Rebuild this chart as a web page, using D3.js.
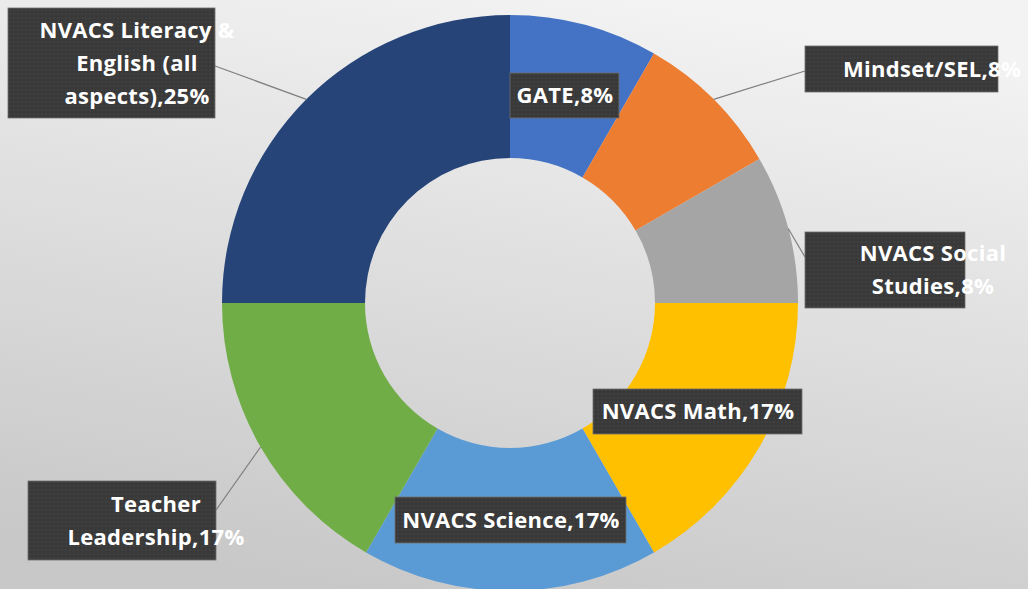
<!DOCTYPE html>
<html lang="en">
<head>
    <meta charset="UTF-8">
    <title>Donut Chart with Callouts</title>
    <script src="https://d3js.org/d3.v7.min.js"></script>
    <style>
        html, body { margin: 0; padding: 0; }
        svg { display: block; }
    </style>
</head>
<body>
    <svg id="donut"></svg>

    <script>
        // categories, clockwise from 12 o'clock
        const categories = [
            "GATE",
            "Mindset/SEL",
            "NVACS Social Studies",
            "NVACS Math",
            "NVACS Science",
            "Teacher Leadership",
            "NVACS Literacy & English (all aspects)"
        ];
        // slice sizes (1:1:1:2:2:2:3)
        const responses = [1, 1, 1, 2, 2, 2, 3];
        const colors = ["#4472C4", "#ED7D31", "#A5A5A5", "#FFC000", "#5B9BD5", "#70AD47", "#264478"];
        // words per label line
        const wrap = [[2], [1], [2, 1], [3], [3], [1, 1], [3, 2, 1]];

        const width = 1028;
        const height = 589;
        const cx = 510, cy = 303;
        const outerR = 288, innerR = 145;

        // label callout boxes (x, y, w, h) and text centre x
        const boxes = [
            {x: 510, y: 73, w: 109, h: 45, tx: 565, leader: false},
            {x: 805, y: 46, w: 193, h: 46, tx: 932, leader: true, ax: 805, ay: 71},
            {x: 805, y: 232, w: 160, h: 76, tx: 933, leader: true, ax: 805, ay: 257},
            {x: 593, y: 389, w: 209, h: 45, tx: 698, leader: false},
            {x: 395, y: 497, w: 231, h: 46, tx: 511, leader: false},
            {x: 28, y: 481, w: 188, h: 79, tx: 156, leader: true, ax: 216, ay: 510},
            {x: 8, y: 8, w: 207, h: 110, tx: 137, leader: true, ax: 215, ay: 66}
        ];

        const svg = d3.select("#donut")
            .attr("width", width)
            .attr("height", height);

        const defs = svg.append("defs");

        const bg = defs.append("linearGradient")
            .attr("id", "bg")
            .attr("x1", 0.65).attr("y1", 0)
            .attr("x2", 0.35).attr("y2", 1);
        bg.append("stop").attr("offset", "0%").attr("stop-color", "#f3f3f3");
        bg.append("stop").attr("offset", "100%").attr("stop-color", "#c8c8c8");

        const dots = defs.append("pattern")
            .attr("id", "dots")
            .attr("width", 4).attr("height", 4)
            .attr("patternUnits", "userSpaceOnUse");
        dots.append("rect").attr("width", 4).attr("height", 4).attr("fill", "#393939");
        dots.append("circle").attr("cx", 2).attr("cy", 2).attr("r", 0.6).attr("fill", "#565656");

        svg.append("rect")
            .attr("width", width)
            .attr("height", height)
            .attr("fill", "url(#bg)");

        const total = d3.sum(responses);
        const data = categories.map((c, i) => ({
            name: c,
            value: responses[i],
            pct: Math.round(responses[i] / total * 100),
            color: colors[i],
            wrap: wrap[i],
            box: boxes[i]
        }));

        const pie = d3.pie()
            .sort(null)
            .value(d => d.value);

        const data_ready = pie(data);

        const arc = d3.arc()
            .innerRadius(innerR)
            .outerRadius(outerR);

        const edgeArc = d3.arc()
            .innerRadius(outerR)
            .outerRadius(outerR);

        const g = svg.append("g")
            .attr("transform", `translate(${cx}, ${cy})`);

        g.selectAll("path.slice")
            .data(data_ready)
            .enter()
            .append("path")
            .attr("class", "slice")
            .attr("d", arc)
            .attr("fill", d => d.data.color);

        // leader lines from slice edge to the callout box
        g.selectAll("line.leader")
            .data(data_ready.filter(d => d.data.box.leader))
            .enter()
            .append("line")
            .attr("class", "leader")
            .attr("x1", d => edgeArc.centroid(d)[0])
            .attr("y1", d => edgeArc.centroid(d)[1])
            .attr("x2", d => d.data.box.ax - cx)
            .attr("y2", d => d.data.box.ay - cy)
            .attr("stroke", "#7f7f7f")
            .attr("stroke-width", 1.2);

        const labels = svg.selectAll("g.label")
            .data(data_ready)
            .enter()
            .append("g")
            .attr("class", "label");

        labels.append("rect")
            .attr("x", d => d.data.box.x)
            .attr("y", d => d.data.box.y)
            .attr("width", d => d.data.box.w)
            .attr("height", d => d.data.box.h)
            .attr("fill", "url(#dots)")
            .attr("stroke", "#6e6e6e")
            .attr("stroke-width", 0.8);

        const lineH = 33;
        labels.each(function(d) {
            const words = `${d.data.name},${d.data.pct}%`.split(" ");
            const lines = [];
            let k = 0;
            d.data.wrap.forEach(n => {
                lines.push(words.slice(k, k + n).join(" "));
                k += n;
            });
            const b = d.data.box;
            const midY = b.y + b.h / 2;
            const y0 = midY - (lines.length - 1) * lineH / 2;
            d3.select(this).selectAll("text")
                .data(lines)
                .enter()
                .append("text")
                .attr("x", b.tx)
                .attr("y", (t, i) => y0 + i * lineH)
                .attr("dy", "0.36em")
                .attr("text-anchor", "middle")
                .attr("fill", "#ffffff")
                .style("font-family", "'Open Sans', Lato, sans-serif")
                .style("font-weight", "bold")
                .style("font-size", "22px")
                .style("letter-spacing", "0.3px")
                .text(t => t);
        });
    </script>
</body>
</html>
